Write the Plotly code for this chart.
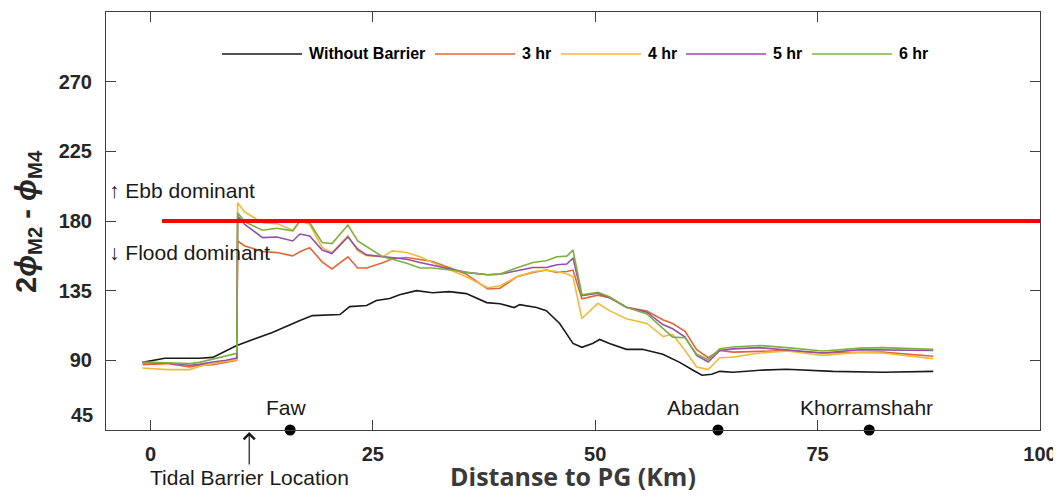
import plotly.graph_objects as go

# ---------------- data ----------------
distance_ref_km = [-0.9, 1.6, 5.5, 7.0, 9.7, 13.7, 16.8, 18.2, 21.3, 22.4, 24.3, 25.4,
                   26.9, 28.0, 29.9, 31.7, 33.6, 35.5, 37.8, 39.3, 40.9, 41.5, 43.4,
                   44.5, 46.0, 46.9, 47.5, 48.5, 49.7, 50.5, 51.6, 53.5, 55.3, 57.6,
                   59.5, 61.0, 62.0, 63.1, 64.0, 65.5, 68.5, 71.5, 76.7, 82.3, 88.0]
phase_no_barrier = [88.7, 91.3, 91.3, 91.9, 99.6, 108.0, 115.7, 118.9, 119.6, 124.7, 125.4,
                    128.6, 129.9, 132.4, 135.0, 133.7, 134.4, 133.1, 127.3, 126.6, 124.1,
                    126.0, 124.1, 122.1, 113.8, 106.1, 100.9, 98.4, 100.9, 103.5, 100.9,
                    97.1, 97.1, 93.9, 88.7, 83.6, 80.4, 81.0, 82.9, 82.3, 83.6, 84.2,
                    82.9, 82.3, 82.9]

distance_km = [-0.9, 1.8, 4.4, 5.5, 7.0, 8.5, 9.7, 9.8, 10.6, 12.6, 14.2, 16.0, 16.8,
               17.9, 19.3, 20.4, 22.2, 23.3, 24.3, 26.1, 27.2, 28.8, 30.3, 31.7, 34.0,
               35.5, 37.9, 39.3, 41.2, 43.0, 44.5, 45.7, 46.8, 47.5, 48.5, 50.3, 51.6,
               53.5, 55.8, 57.6, 58.7, 60.1, 61.4, 62.7, 64.0, 65.5, 68.5, 71.5, 75.6,
               79.8, 82.3, 88.0]
phase_3hr = [87.2, 87.9, 85.7, 86.8, 87.2, 88.9, 90.0, 167.1, 163.9, 160.3, 159.6, 157.5,
             160.1, 162.8, 153.6, 149.0, 156.9, 149.6, 149.6, 153.0, 155.6, 156.4, 155.3,
             153.8, 149.0, 145.7, 136.1, 136.6, 144.0, 146.8, 148.3, 146.8, 147.4, 148.3,
             129.7, 132.1, 130.5, 124.3, 121.8, 116.2, 113.8, 108.8, 96.9, 91.7, 96.4,
             95.3, 95.8, 96.4, 94.7, 95.3, 95.3, 92.6]
phase_4hr = [85.0, 84.0, 84.0, 86.1, 87.9, 89.4, 90.4, 191.8, 185.8, 178.9, 178.3, 174.0,
             180.0, 177.9, 162.8, 159.6, 170.4, 160.7, 157.5, 156.9, 160.7, 159.6, 156.9,
             153.2, 147.9, 144.0, 136.9, 138.2, 144.0, 147.2, 148.2, 147.3, 145.9, 144.0,
             117.0, 126.8, 122.1, 116.8, 113.8, 105.4, 106.7, 96.4, 85.7, 84.0, 91.7,
             92.1, 94.7, 96.0, 93.2, 95.3, 94.7, 91.1]
phase_5hr = [88.5, 88.3, 86.8, 87.4, 88.9, 90.0, 91.5, 183.2, 177.8, 169.3, 169.7, 167.1,
             171.6, 170.4, 161.2, 159.0, 169.7, 161.8, 158.1, 156.9, 156.5, 155.3, 153.2,
             151.5, 148.8, 146.8, 145.3, 145.7, 147.9, 150.0, 150.0, 151.7, 152.2, 156.0,
             131.8, 133.3, 130.5, 124.3, 121.1, 113.1, 110.4, 105.0, 93.2, 88.9, 96.4,
             97.4, 98.2, 96.8, 94.7, 96.9, 96.8, 96.4]
phase_6hr = [88.9, 88.3, 87.9, 88.7, 90.6, 92.6, 94.5, 185.3, 179.5, 174.0, 175.3, 173.6,
             180.0, 178.9, 166.1, 165.4, 177.4, 167.1, 163.5, 156.9, 155.3, 152.7, 149.6,
             149.6, 148.2, 146.8, 145.3, 145.7, 149.8, 153.2, 154.3, 156.9, 157.3, 161.2,
             132.4, 133.9, 131.1, 124.3, 120.0, 111.0, 105.0, 104.6, 93.9, 90.4, 97.5,
             98.6, 99.6, 98.2, 96.0, 97.9, 98.2, 97.1]

threshold_km = [1.3, 100]
threshold_deg = [180, 180]

station_names = ["Faw", "Abadan", "Khorramshahr"]
station_km = [15.7, 63.8, 80.8]
station_label_km = [15.3, 62.1, 80.5]
barrier_km = 11.1

series_names = ["Without Barrier", "3 hr", "4 hr", "5 hr", "6 hr"]
x_ticks = [0, 25, 50, 75, 100]
y_ticks = [45, 90, 135, 180, 225, 270]

# ---------------- styling / layout constants ----------------
OFF = 8                      # default page margin of the html body
W, H = 1061 - OFF, 500 - 2 * OFF
ML, MT = 106 - OFF, 12 - OFF
PW, PH = 934, 418
MR, MB = W - ML - PW, H - MT - PH
colors = ["#1a1a1a", "#E0663A", "#F2BA3C", "#9350A6", "#7DB040"]
FONT = "Arial, Liberation Sans, sans-serif"
TXT = "#1a1a1a"


def px_x(p):
    """page pixel x -> paper fraction"""
    return (p - OFF - ML) / PW


def px_y(p):
    """page pixel y -> paper fraction"""
    return (OFF + MT + PH - p) / PH


fig = go.Figure()
series = [(distance_ref_km, phase_no_barrier), (distance_km, phase_3hr),
          (distance_km, phase_4hr), (distance_km, phase_5hr), (distance_km, phase_6hr)]
for (xs, ys), name, col in zip(series, series_names, colors):
    fig.add_trace(go.Scatter(x=xs, y=ys, mode="lines", name=name,
                             line=dict(color=col, width=1.6), showlegend=False))

fig.add_trace(go.Scatter(x=threshold_km, y=threshold_deg, mode="lines",
                         line=dict(color="#ff0000", width=4), showlegend=False,
                         name="180°"))

fig.add_trace(go.Scatter(x=station_km, y=[y_ticks[0]] * len(station_km), mode="markers",
                         marker=dict(color="black", size=11), cliponaxis=False,
                         showlegend=False, name="Stations"))

annotations = []
# station labels
for name, lx in zip(station_names, station_label_km):
    annotations.append(dict(x=lx, y=px_y(407), xref="x", yref="paper", text=name,
                            showarrow=False, xanchor="center", yanchor="middle",
                            font=dict(family=FONT, size=21, color=TXT)))

# tidal barrier arrow + label
annotations.append(dict(x=barrier_km, y=px_y(432), xref="x", yref="paper", text="",
                        showarrow=True, ax=0, ay=34, arrowhead=4, arrowsize=1.8,
                        arrowwidth=1.2, arrowcolor=TXT))
annotations.append(dict(x=barrier_km, y=px_y(477), xref="x", yref="paper",
                        text="Tidal Barrier Location", showarrow=False,
                        xanchor="center", yanchor="middle",
                        font=dict(family=FONT, size=21, color=TXT)))

# ebb / flood
annotations.append(dict(x=px_x(107), y=px_y(191), xref="paper", yref="paper",
                        text="↑ Ebb dominant", showarrow=False, xanchor="left",
                        yanchor="middle", font=dict(family=FONT, size=21, color=TXT)))
annotations.append(dict(x=px_x(107), y=px_y(253), xref="paper", yref="paper",
                        text="↓ Flood dominant", showarrow=False, xanchor="left",
                        yanchor="middle", font=dict(family=FONT, size=21, color=TXT)))

# axis titles
annotations.append(dict(x=px_x(28), y=px_y(222), xref="paper", yref="paper",
                        text="<b>2<i>ϕ</i><sub>M2</sub> - <i>ϕ</i><sub>M4</sub></b>",
                        textangle=-90, showarrow=False, xanchor="center",
                        yanchor="middle", font=dict(family=FONT, size=29, color="#262626")))
annotations.append(dict(x=px_x(573), y=0, xref="paper", yref="paper",
                        yshift=-(H - MT - PH) - 3, text="<b>Distanse to PG (Km)</b>",
                        showarrow=False, xanchor="center", yanchor="bottom",
                        font=dict(family="Open Sans, sans-serif", size=25, color="#3a3a3a")))

# lowest y tick label (drawn slightly above the corner as in the reference)
annotations.append(dict(x=px_x(95), y=px_y(415), xref="paper", yref="paper",
                        text="<b>%d</b>" % y_ticks[0], showarrow=False, xanchor="right",
                        yanchor="middle", font=dict(family=FONT, size=20, color="#262626")))

# manual legend (long line samples like the reference)
shapes = []
leg_starts = [222, 435, 561, 686, 812]
leg_y = 54
for name, col, s in zip(series_names, colors, leg_starts):
    shapes.append(dict(type="line", xref="paper", yref="paper",
                       x0=px_x(s), x1=px_x(s + 80), y0=px_y(leg_y), y1=px_y(leg_y),
                       line=dict(color=col, width=1.6)))
    annotations.append(dict(x=px_x(s + 85), y=px_y(leg_y), xref="paper", yref="paper",
                            text="<b>%s</b>" % name, showarrow=False, xanchor="left",
                            yanchor="middle", font=dict(family=FONT, size=16, color="black")))

axis_common = dict(showline=True, linecolor="#404040", linewidth=1, mirror="ticks",
                   ticks="inside", ticklen=10, tickcolor="#404040", tickwidth=1,
                   showgrid=False, zeroline=False,
                   tickfont=dict(family=FONT, size=20, color="#262626"))

fig.update_layout(
    width=W, height=H,
    margin=dict(l=ML, r=MR, t=MT, b=MB, autoexpand=False),
    paper_bgcolor="white", plot_bgcolor="white",
    xaxis=dict(range=[-5, 100], tickvals=x_ticks,
               ticktext=["<b>%d</b>" % v for v in x_ticks],
               ticklabelstandoff=6, **axis_common),
    yaxis=dict(range=[45, 315], tickvals=y_ticks,
               ticktext=[""] + ["<b>%d</b>" % v for v in y_ticks[1:]],
               ticklabelstandoff=9, **axis_common),
    annotations=annotations,
    shapes=shapes,
    showlegend=False,
)

fig.write_html("out.html")
